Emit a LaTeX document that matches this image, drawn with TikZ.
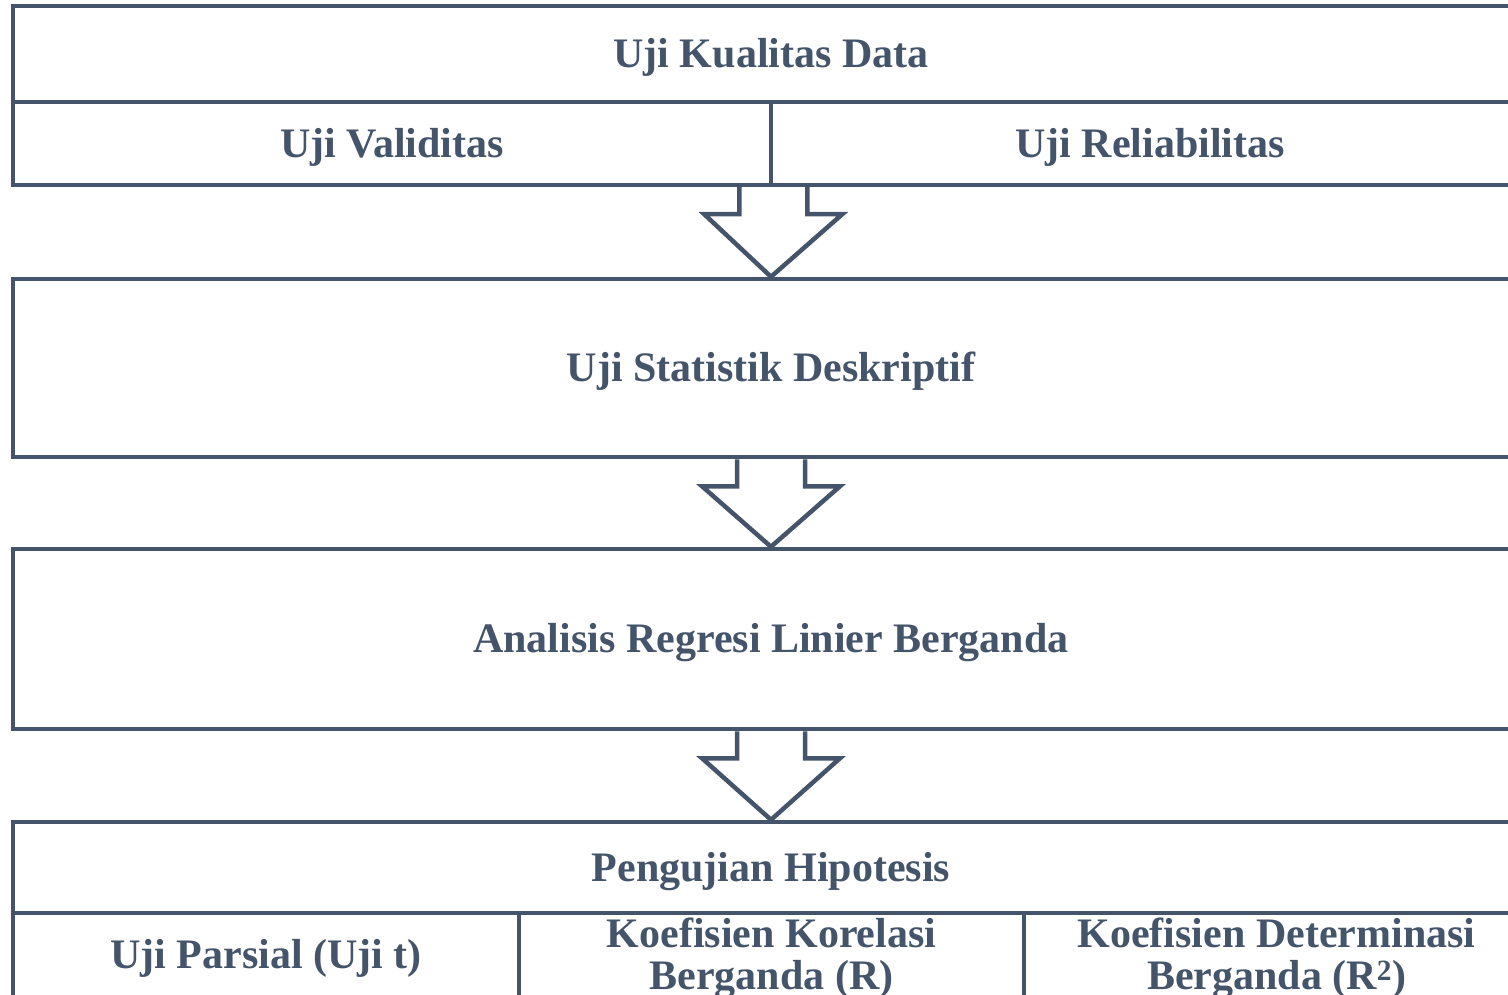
\documentclass[tikz,border=0pt]{standalone}
\usepackage{fontspec}
\setmainfont{Liberation Serif}
\usetikzlibrary{calc}

\definecolor{slate}{HTML}{44546A}

\tikzset{
  kotak/.style={draw=slate, line width=4.5pt, rectangle, inner sep=0pt,
    text=slate, align=center, font=\bfseries\fontsize{42}{42}\selectfont},
  satubaris/.style={kotak, text height=36.5pt, text depth=9.2pt},
  duabaris/.style={kotak, text depth=3pt},
  panah/.style={draw=slate, line width=4.5pt, line join=miter}
}

% block arrow from the bottom edge of one box to the top edge of the next
\newcommand{\blokpanah}[2]{%
  \draw[panah] ($(#1)+(-34,0)$) -- ++(0,27) -- ++(-35,0) -- (#2)
    -- ($(#1)+(69,27)$) -- ++(-35,0) -- ++(0,-27);
}

\begin{document}
\begin{tikzpicture}[x=1pt,y=-1pt]
  \clip (0,0) rectangle (1508,995);

  \node[satubaris, minimum width=1516pt, minimum height=96pt] (kualitas) at (771,54) {Uji Kualitas Data};
  \node[satubaris, minimum width=758pt, minimum height=83pt] (validitas) at (392,143.5) {Uji Validitas};
  \node[satubaris, minimum width=758pt, minimum height=83pt] (reliabilitas) at (1150,143.5) {Uji Reliabilitas};

  \node[satubaris, minimum width=1516pt, minimum height=178pt] (statistik) at (771,368) {Uji Statistik Deskriptif};

  \node[satubaris, minimum width=1516pt, minimum height=180pt] (regresi) at (771,639) {Analisis Regresi Linier Berganda};

  \node[satubaris, minimum width=1516pt, minimum height=91pt] (hipotesis) at (771,867.5) {Pengujian Hipotesis};
  \node[satubaris, minimum width=506pt, minimum height=84pt] (parsial) at (266,955) {Uji Parsial (Uji t)};
  \node[duabaris, minimum width=505pt, minimum height=84pt] (korelasi) at (771.5,955) {Koefisien Korelasi\\Berganda (R)};
  \node[duabaris, minimum width=505pt, minimum height=84pt] (determinasi) at (1276.5,955) {Koefisien Determinasi\\Berganda (R\textsuperscript{2})};

  \blokpanah{validitas.south east}{statistik.north}
  \blokpanah{statistik.south}{regresi.north}
  \blokpanah{regresi.south}{hipotesis.north}
\end{tikzpicture}
\end{document}
